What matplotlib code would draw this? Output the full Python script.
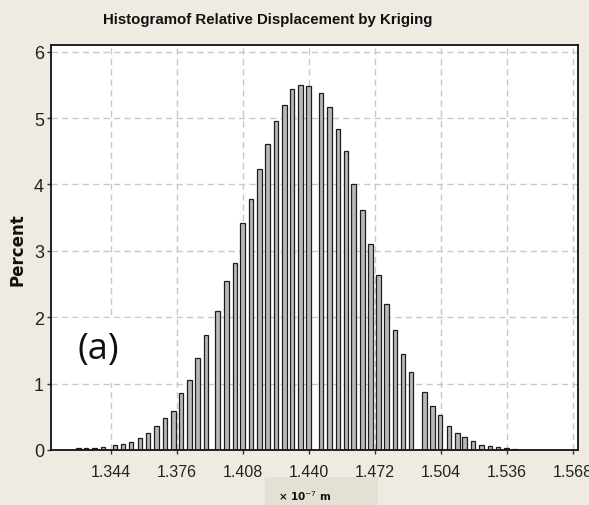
import matplotlib
matplotlib.use("Agg")
import matplotlib.pyplot as plt
from matplotlib.patches import Rectangle

# Bin centres (x 10^-7 m) and percentage of samples in each bin
bin_centers = [
    1.3282, 1.3319, 1.3359, 1.3400, 1.3459, 1.3497, 1.3537, 1.3581, 1.3618, 1.3661,
    1.3702, 1.3742, 1.3778, 1.3819, 1.3860, 1.3900, 1.3955, 1.3999, 1.4041, 1.4076,
    1.4118, 1.4159, 1.4197, 1.4240, 1.4280, 1.4318, 1.4357, 1.4396, 1.4458, 1.4498,
    1.4540, 1.4579, 1.4614, 1.4658, 1.4698, 1.4735, 1.4776, 1.4816, 1.4856, 1.4894,
    1.4958, 1.4997, 1.5034, 1.5078, 1.5118, 1.5154, 1.5194, 1.5236, 1.5276, 1.5315,
    1.5357, 1.5396,
]
percent = [
    0.025, 0.025, 0.025, 0.05, 0.07, 0.09, 0.126, 0.177, 0.26, 0.36,
    0.48, 0.586, 0.864, 1.06, 1.39, 1.73, 2.09, 2.54, 2.82, 3.42,
    3.78, 4.23, 4.61, 4.96, 5.20, 5.43, 5.50, 5.48, 5.38, 5.17,
    4.84, 4.51, 4.00, 3.62, 3.11, 2.64, 2.20, 1.80, 1.45, 1.17,
    0.88, 0.67, 0.53, 0.36, 0.25, 0.19, 0.13, 0.08, 0.06, 0.04,
    0.025, 0.02,
]
x_ticks = [1.344, 1.376, 1.408, 1.440, 1.472, 1.504, 1.536, 1.568]
x_tick_labels = ["1.344", "1.376", "1.408", "1.440", "1.472", "1.504", "1.536", "1.568"]
y_ticks = [0, 1, 2, 3, 4, 5, 6]

title = "Histogramof Relative Displacement by Kriging"
y_label = "Percent"
unit_label = "\u00d7 10$^{-7}$ m"
panel_label = "(a)"

bg = "#efebe2"
sans = ["Liberation Sans", "DejaVu Sans"]

fig = plt.figure(figsize=(5.89, 5.06), dpi=100, facecolor=bg)
ax = fig.add_axes([51 / 589, 1 - 451 / 506, 527 / 589, 405 / 506])
ax.set_facecolor("white")

ax.set_xlim(1.3149, 1.5703)
ax.set_ylim(0, 6.1)

ax.grid(True, color="#c8c8c8", linestyle=(0, (4.5, 3)), linewidth=1.0, zorder=0)
ax.set_axisbelow(True)

# white patch behind the panel label
ax.add_patch(Rectangle((0.0, 0.165), 0.175, 0.16, transform=ax.transAxes,
                       facecolor="white", edgecolor="none", zorder=1))

ax.bar(bin_centers, percent, width=0.0022, color="#b8b8b8",
       edgecolor="#1e1e1e", linewidth=0.9, zorder=2)

ax.set_xticks(x_ticks)
ax.set_xticklabels(x_tick_labels, family=sans, fontsize=11.5, color="#222222")
ax.set_yticks(y_ticks)
ax.set_yticklabels([str(v) for v in y_ticks], family=sans, fontsize=13, color="#222222")
ax.tick_params(axis="both", direction="out", length=3, width=1, color="#333333")
ax.tick_params(axis="x", pad=7)
ax.tick_params(axis="y", pad=2)

for side in ax.spines.values():
    side.set_color("#111111")
    side.set_linewidth(1.3)

ax.text(0.089, 0.249, panel_label, transform=ax.transAxes, ha="center", va="center",
        fontsize=26, family=["Open Sans", "DejaVu Sans"], color="#111111", zorder=3)

fig.text(268 / 589, 1 - 20 / 506, title, ha="center", va="center",
         fontsize=10.8, fontweight="bold", family=sans, color="#111111")
fig.text(18 / 589, 1 - 250 / 506, y_label, ha="center", va="center", rotation=90,
         fontsize=12, fontweight="bold", family="DejaVu Sans", color="#111111")

# unit caption below the x axis
fig.patches.append(Rectangle((265 / 589, 0), 113 / 589, 28 / 506, transform=fig.transFigure,
                             facecolor="#e4e0d3", edgecolor="none", zorder=0))
fig.text(305 / 589, 1 - 496 / 506, unit_label, ha="center", va="center",
         fontsize=7.5, fontweight="bold", family="DejaVu Sans", color="#111111")

fig.savefig("out.png", dpi=100, facecolor=bg)
